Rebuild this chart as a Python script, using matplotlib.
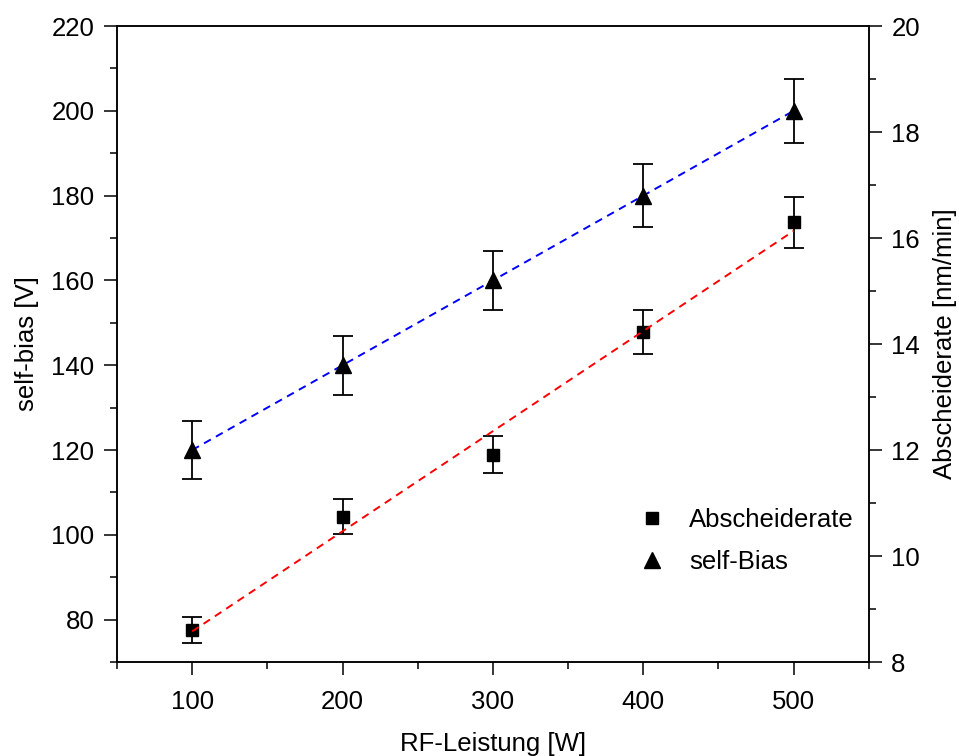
import numpy as np
import matplotlib
matplotlib.use("Agg")
import matplotlib.pyplot as plt
from matplotlib.lines import Line2D
from matplotlib.ticker import MultipleLocator

plt.rcParams['font.family'] = ['Liberation Sans', 'DejaVu Sans']

# data
leistung = [100, 200, 300, 400, 500]
self_bias = [120, 140, 160, 180, 200]
self_bias_err = [6.8, 7.0, 7.0, 7.4, 7.6]
rate = [8.60, 10.74, 11.91, 14.23, 16.30]
rate_err = [0.25, 0.33, 0.35, 0.42, 0.48]

fs = 18.5

fig = plt.figure(figsize=(9.59, 7.56), dpi=100)
ax = fig.add_axes([0.122, 0.1243, 0.784, 0.8413])
ax2 = ax.twinx()

# self-bias on the left axis
ax.errorbar(leistung, self_bias, yerr=self_bias_err, fmt='none', ecolor='k',
            elinewidth=1.3, capsize=7.2, capthick=1.3, zorder=2)
fit_b = np.polyfit(leistung, self_bias, 1)
xs = np.array([leistung[0], leistung[-1]])
ax.plot(xs, np.polyval(fit_b, xs), '--', color='blue', lw=1.4, dashes=(4, 3), zorder=3)
ax.plot(leistung, self_bias, '^', color='k', ms=11, zorder=4)

# abscheiderate on the right axis
ax2.errorbar(leistung, rate, yerr=rate_err, fmt='none', ecolor='k',
             elinewidth=1.3, capsize=7.2, capthick=1.3, zorder=2)
ax2.plot(leistung, rate, 's', color='k', ms=8, zorder=3)
fit_r = np.polyfit(leistung, rate, 1)
ax2.plot(xs, np.polyval(fit_r, xs), '--', color='red', lw=1.4, dashes=(4, 3), zorder=4)

ax.set_xlim(50, 550)
ax.set_ylim(70, 220)
ax2.set_ylim(8, 20)

ax.xaxis.set_major_locator(MultipleLocator(100))
ax.xaxis.set_minor_locator(MultipleLocator(50))
ax.yaxis.set_major_locator(MultipleLocator(20))
ax.yaxis.set_minor_locator(MultipleLocator(10))
ax2.yaxis.set_major_locator(MultipleLocator(2))
ax2.yaxis.set_minor_locator(MultipleLocator(1))

for a in (ax, ax2):
    a.tick_params(which='major', direction='out', length=9.2, width=1.1, labelsize=fs, pad=7)
    a.tick_params(which='minor', direction='out', length=4.8, width=1.1)
    for s in a.spines.values():
        s.set_linewidth(1.1)
ax.tick_params(axis='x', top=False, which='both')
ax.tick_params(axis='x', which='major', pad=11)

ax.set_xlabel('RF-Leistung [W]', fontsize=fs, labelpad=13)
ax.set_ylabel('self-bias [V]', fontsize=fs, labelpad=9)
ax2.set_ylabel('Abscheiderate [nm/min]', fontsize=fs, labelpad=9)

handles = [Line2D([], [], ls='none', marker='s', color='k', ms=8),
           Line2D([], [], ls='none', marker='^', color='k', ms=11)]
ax2.legend(handles, ['Abscheiderate', 'self-Bias'], loc='center left',
           bbox_to_anchor=(0.664, 0.19), frameon=False, fontsize=fs,
           handlelength=1.0, handletextpad=0.94, labelspacing=0.72)

fig.savefig('out.png', dpi=100)
